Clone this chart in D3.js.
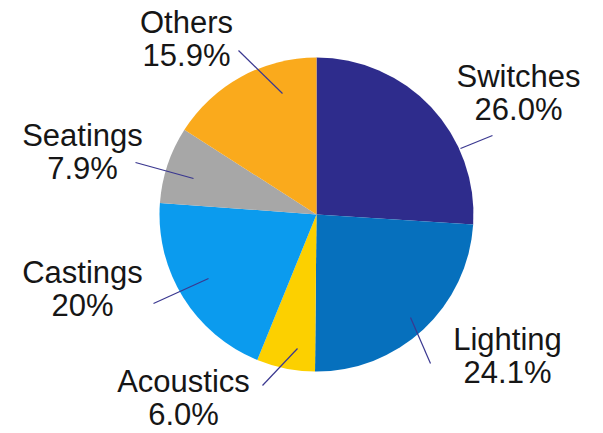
<!DOCTYPE html>
<html>
<head>
<meta charset="utf-8">
<script src="https://cdn.jsdelivr.net/npm/d3@7"></script>
<style>
  html, body { margin: 0; padding: 0; background: #ffffff; }
  svg { display: block; }
  .lbl { font-family: "Liberation Sans", Arial, Helvetica, sans-serif; font-size: 31px; fill: #161616; }
</style>
</head>
<body>
<svg id="chart" width="603" height="433"></svg>
<script>
// Market share by product segment
const categories = ["Switches", "Lighting", "Acoustics", "Castings", "Seatings", "Others"];
const shares = [26.0, 24.1, 6.0, 20, 7.9, 15.9];
const shareLabels = ["26.0%", "24.1%", "6.0%", "20%", "7.9%", "15.9%"];
const colors = ["#2e2c8c", "#0670bd", "#fcd000", "#0b9bee", "#a7a7a7", "#faaa1c"];

// Label placement, relative to the pie centre: text centre x / first baseline y,
// plus the two ends of each leader line.
const labelLayout = [
  { tx: 202, ty: -128, l1: [144, -66], l2: [176, -79] },
  { tx: 191, ty: 135,  l1: [94, 103],  l2: [114, 149] },
  { tx: -133, ty: 177, l1: [-19, 134], l2: [-54, 171] },
  { tx: -234, ty: 68,  l1: [-108, 64], l2: [-163, 89] },
  { tx: -234, ty: -69, l1: [-123, -36], l2: [-181, -52] },
  { tx: -130, ty: -182, l1: [-34, -121], l2: [-78, -164] }
];

const cx = 316.5, cy = 214.5, R = 157;
const lineGap = 33;

const svg = d3.select("#chart");
const g = svg.append("g").attr("transform", `translate(${cx},${cy})`);

const pie = d3.pie().sort(null).value(d => d.value);
const arc = d3.arc().innerRadius(0).outerRadius(R);

const rows = categories.map((c, i) => ({ name: c, value: shares[i], label: shareLabels[i], color: colors[i], layout: labelLayout[i] }));
const arcs = pie(rows);

g.selectAll("path.slice")
  .data(arcs)
  .join("path")
  .attr("class", "slice")
  .attr("d", arc)
  .attr("fill", d => d.data.color);

// leader lines
g.selectAll("line.leader")
  .data(arcs)
  .join("line")
  .attr("class", "leader")
  .attr("x1", d => d.data.layout.l1[0])
  .attr("y1", d => d.data.layout.l1[1])
  .attr("x2", d => d.data.layout.l2[0])
  .attr("y2", d => d.data.layout.l2[1])
  .attr("stroke", "#3a3890")
  .attr("stroke-width", 1.2);

// labels: name on the first line, share below
const labels = g.selectAll("text.lbl")
  .data(arcs)
  .join("text")
  .attr("class", "lbl")
  .attr("text-anchor", "middle")
  .attr("transform", d => `translate(${d.data.layout.tx},${d.data.layout.ty})`);

labels.append("tspan").attr("x", 0).attr("y", 0).text(d => d.data.name);
labels.append("tspan").attr("x", 0).attr("y", lineGap).text(d => d.data.label);
</script>
</body>
</html>
